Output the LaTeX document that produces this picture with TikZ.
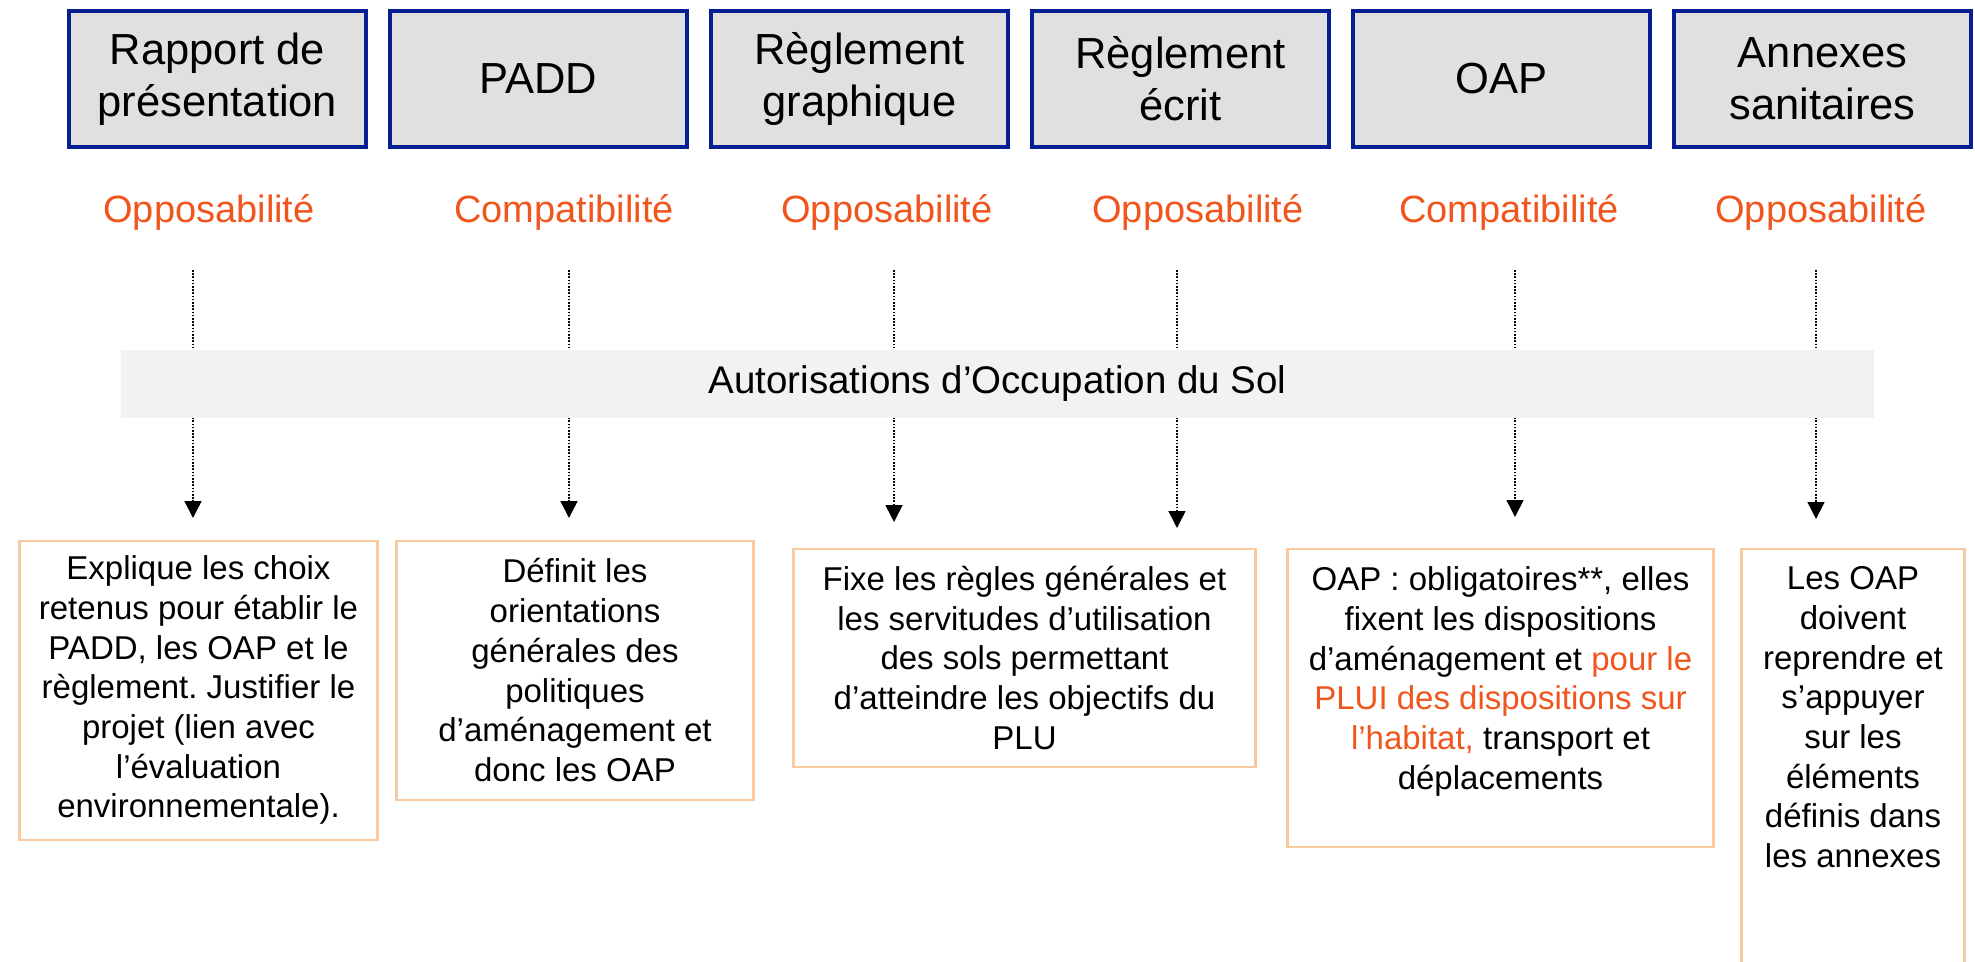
\documentclass[tikz,border=0pt]{standalone}
\usepackage{fontspec}
\setmainfont{Liberation Sans}
\frenchspacing
\usetikzlibrary{arrows.meta}
\definecolor{navy}{RGB}{5,30,145}
\definecolor{topgray}{RGB}{224,224,224}
\definecolor{accent}{RGB}{240,85,30}
\definecolor{peach}{RGB}{250,202,158}
\definecolor{bandgray}{RGB}{242,242,242}
\begin{document}
\begin{tikzpicture}[x=1pt,y=-1pt,
  docbox/.style={draw=navy, line width=4pt, fill=topgray, minimum width=297pt,
    minimum height=136pt, inner sep=0pt, align=center, font=\fontsize{43.5}{52}\selectfont},
  status/.style={text=accent, inner sep=0pt, font=\fontsize{38}{46}\selectfont},
  notebox/.style={draw=peach, line width=2.5pt, inner sep=0pt, anchor=north},
  notetext/.style={align=center, inner sep=0pt, font=\fontsize{33}{39.7}\selectfont},
  link/.style={line width=1.6pt, dash pattern=on 1.6pt off 1.6pt,
    -{Triangle[length=17pt,width=17pt]}},
]
\useasboundingbox (0,0) rectangle (1975,961);
\clip (0,0) rectangle (1975,961);

% document headers
\node[docbox] (rp)   at (217.5,79)  {Rapport de\\présentation};
\node[docbox] (padd) at (538.5,79)  {PADD};
\node[docbox] (rg)   at (859.5,79)  {Règlement\\graphique};
\node[docbox] (re)   at (1180.5,79) {Règlement\\écrit};
\node[docbox] (oap)  at (1501.5,79) {OAP};
\node[docbox] (as)   at (1822.5,79) {Annexes\\sanitaires};

% legal relation of each document
\node[status] (s1) at (209,212)  {Opposabilité};
\node[status] (s2) at (564,212)  {Compatibilité};
\node[status] (s3) at (887,212)  {Opposabilité};
\node[status] (s4) at (1198,212) {Opposabilité};
\node[status] (s5) at (1509,212) {Compatibilité};
\node[status] (s6) at (1821,212) {Opposabilité};

% dotted links through the permits band
\coordinate (a1) at (193,270);  \coordinate (z1) at (193,518);
\coordinate (a2) at (569,270);  \coordinate (z2) at (569,518);
\coordinate (a3) at (894,270);  \coordinate (z3) at (894,522);
\coordinate (a4) at (1177,270); \coordinate (z4) at (1177,528);
\coordinate (a5) at (1515,270); \coordinate (z5) at (1515,517);
\coordinate (a6) at (1816,270); \coordinate (z6) at (1816,519);
\foreach \i in {1,...,6} { \draw[link] (a\i) -- (z\i); }

\node[fill=bandgray, minimum width=1753pt, minimum height=68pt, inner sep=0pt,
  font=\fontsize{38.5}{46}\selectfont] (aos) at (997.5,384)
  {Autorisations d’Occupation du Sol};

% explanation boxes
\node[notebox, minimum width=358pt, minimum height=299pt] (b1) at (198.5,539.5) {};
\node[notebox, minimum width=357pt, minimum height=259pt] (b2) at (575,539.5) {};
\node[notebox, minimum width=462pt, minimum height=218pt] (b3) at (1024.5,547.5) {};
\node[notebox, minimum width=426pt, minimum height=298pt] (b5) at (1500.5,547.5) {};
\node[notebox, minimum width=223pt, minimum height=500pt] (b6) at (1853,547.5) {};

\node[notetext] (t1) at (b1.center) {Explique les choix\\retenus pour établir le\\PADD, les OAP et le\\règlement. Justifier le\\projet (lien avec\\l’évaluation\\environnementale).};
\node[notetext] (t2) at (b2.center) {Définit les\\orientations\\générales des\\politiques\\d’aménagement et\\donc les OAP};
\node[notetext] (t3) at (b3.center) {Fixe les règles générales et\\les servitudes d’utilisation\\des sols permettant\\d’atteindre les objectifs du\\PLU};
\node[notetext, anchor=north, yshift=-19pt] (t5) at (b5.north) {OAP : obligatoires**, elles\\fixent les dispositions\\d’aménagement et \textcolor{accent}{pour le}\\\textcolor{accent}{PLUI des dispositions sur}\\\textcolor{accent}{l’habitat,} transport et\\déplacements};
\node[notetext, anchor=north, yshift=-19pt] (t6) at (b6.north) {Les OAP\\doivent\\reprendre et\\s’appuyer\\sur les\\éléments\\définis dans\\les annexes};
\end{tikzpicture}
\end{document}
